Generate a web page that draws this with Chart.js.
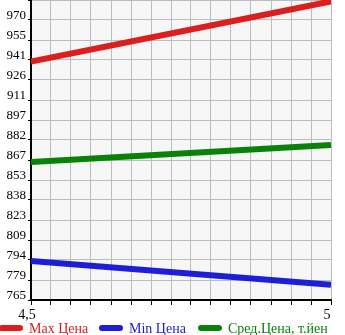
<!DOCTYPE html>
<html>
<head>
<meta charset="utf-8">
<script src="https://cdn.jsdelivr.net/npm/chart.js@4/dist/chart.umd.min.js"></script>
<style>
  html, body { margin: 0; padding: 0; background: #fff; }
  #wrap { width: 345px; height: 335px; position: relative; }
</style>
</head>
<body>
<div id="wrap"><canvas id="priceChart"></canvas></div>
<script>
// years (x) and prices
const xValues = [4.5, 5];
const maxPrice = [939.8, 984];
const minPrice = [793.6, 776.2];
const avgPrice = [866.2, 878.7];
const seriesLabels = ['Max Цена', 'Min Цена', 'Сред.Цена, т.йен'];
const seriesColors = ['#dc1e1e', '#1e1ed8', '#0a820a'];

const yMin = 765, yMax = 985, ySteps = 15;
const xMin = 4.5, xMax = 5, xSteps = 15;

const toPoints = arr => arr.map((v, i) => ({ x: xValues[i], y: v }));

// plot background
const plotBg = {
    id: 'plotBg',
    beforeDraw(chart) {
        const a = chart.chartArea;
        const ctx = chart.ctx;
        ctx.save();
        ctx.fillStyle = '#f6f6f6';
        ctx.fillRect(a.left, a.top, a.right - a.left, a.bottom - a.top);
        ctx.restore();
    }
};

// legend along the bottom
const bottomLegend = {
    id: 'bottomLegend',
    afterDraw(chart) {
        const ctx = chart.ctx;
        const xs = [0, 100, 199];
        const y = 328;
        ctx.save();
        ctx.font = '14px "Liberation Serif", serif';
        ctx.textBaseline = 'middle';
        chart.data.datasets.forEach((ds, i) => {
            ctx.strokeStyle = ds.borderColor;
            ctx.lineWidth = 6;
            ctx.lineCap = 'round';
            ctx.beginPath();
            ctx.moveTo(xs[i] + 2, y);
            ctx.lineTo(xs[i] + 20, y);
            ctx.stroke();
            ctx.fillStyle = ds.borderColor;
            ctx.fillText(ds.label, xs[i] + 29, y + 1);
        });
        ctx.restore();
    }
};

new Chart(document.getElementById('priceChart'), {
    type: 'line',
    data: {
        datasets: [
            { label: seriesLabels[0], data: toPoints(maxPrice), borderColor: seriesColors[0] },
            { label: seriesLabels[1], data: toPoints(minPrice), borderColor: seriesColors[1] },
            { label: seriesLabels[2], data: toPoints(avgPrice), borderColor: seriesColors[2] }
        ]
    },
    options: {
        responsive: true,
        maintainAspectRatio: false,
        animation: false,
        layout: { padding: { top: 0, right: 14, bottom: 0, left: 0 } },
        elements: {
            line: { borderWidth: 6, tension: 0, borderCapStyle: 'butt' },
            point: { radius: 0 }
        },
        plugins: {
            legend: { display: false },
            tooltip: { enabled: false }
        },
        scales: {
            x: {
                type: 'linear',
                min: xMin,
                max: xMax,
                afterBuildTicks(scale) {
                    const t = [];
                    for (let k = 0; k <= xSteps; k++) t.push({ value: xMin + (xMax - xMin) * k / xSteps });
                    scale.ticks = t;
                },
                afterFit(scale) {
                    scale.height = 35;
                    scale.paddingLeft = 0;
                    scale.paddingRight = 0;
                },
                grid: { color: '#bdbdbd', lineWidth: 1, tickLength: 5, tickColor: '#000' },
                border: { color: '#000', width: 2 },
                ticks: {
                    autoSkip: false,
                    maxRotation: 0,
                    padding: 2,
                    labelOffset: -4,
                    color: '#000',
                    font: { family: '"Liberation Serif", serif', size: 14 },
                    callback(v, i, ticks) {
                        if (i === 0) return '4,5';
                        if (i === ticks.length - 1) return '5';
                        return '';
                    }
                }
            },
            y: {
                min: yMin,
                max: yMax,
                afterBuildTicks(scale) {
                    const t = [];
                    for (let k = 0; k <= ySteps; k++) t.push({ value: yMin + (yMax - yMin) * k / ySteps });
                    scale.ticks = t;
                },
                afterFit(scale) {
                    scale.width = 31;
                    scale.paddingTop = 0;
                    scale.paddingBottom = 0;
                },
                grid: { color: '#bdbdbd', lineWidth: 1, tickLength: 3, tickColor: '#000' },
                border: { color: '#000', width: 2 },
                ticks: {
                    autoSkip: false,
                    padding: 2,
                    labelOffset: -4,
                    color: '#000',
                    font: { family: '"Liberation Serif", serif', size: 13 },
                    callback(v, i, ticks) {
                        if (i === ticks.length - 1) return '';
                        return String(Math.floor(v + 1e-6));
                    }
                }
            }
        }
    },
    plugins: [plotBg, bottomLegend]
});
</script>
</body>
</html>
